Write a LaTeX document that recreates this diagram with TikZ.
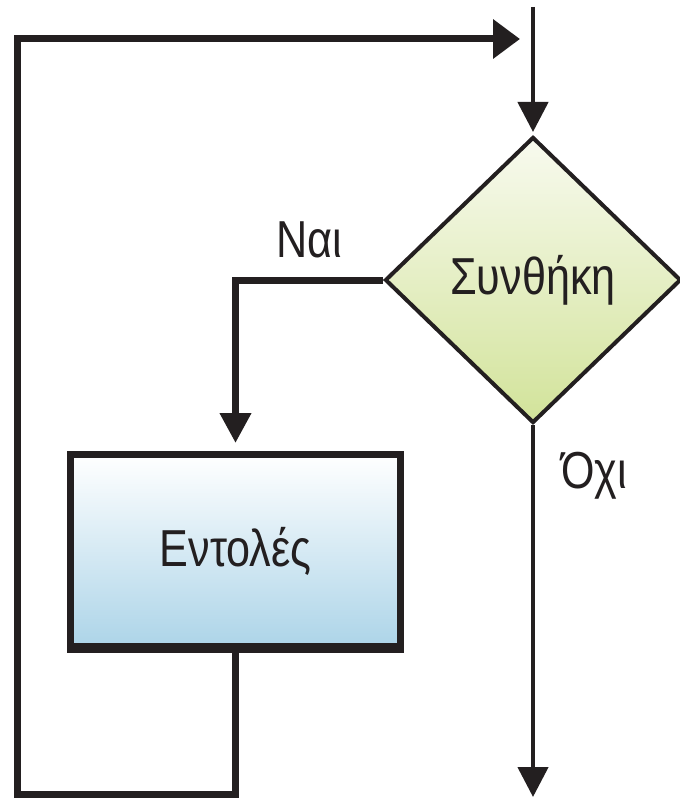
\documentclass[tikz,border=0pt]{standalone}
\usepackage{fontspec}
\setmainfont{Liberation Sans}[FakeStretch=0.83]
\usetikzlibrary{shapes.geometric,arrows.meta}
\definecolor{linecol}{HTML}{231F20}
\definecolor{dtop}{HTML}{F8FAEF}
\definecolor{dbot}{HTML}{D2E39A}
\definecolor{btop}{HTML}{FFFFFF}
\definecolor{bbot}{HTML}{ACD4E8}
\tikzset{
  txt/.style={text=linecol,font=\fontsize{52}{60}\selectfont},
  decision/.style={shape=diamond,draw=linecol,line width=4pt,inner sep=0pt,
    minimum width=296pt,minimum height=286pt,top color=dtop,bottom color=dbot,txt},
  process/.style={shape=rectangle,draw=linecol,line width=7pt,inner sep=0pt,
    minimum width=330pt,minimum height=193.5pt,top color=btop,bottom color=bbot,txt},
  thinflow/.style={draw=linecol,line width=4.5pt,-{Triangle[length=30pt,width=30pt]}},
  loopflow/.style={draw=linecol,line width=7pt,line join=miter},
  lbl/.style={txt,anchor=base,inner sep=0pt}
}
\begin{document}
\begin{tikzpicture}[x=1pt,y=-1pt]
\useasboundingbox (0,0) rectangle (679,799);
\fill[white] (0,0) rectangle (679,799);
\coordinate (top) at (533,7);
\coordinate (end) at (533,797);
\coordinate (lb) at (17.5,794.5);
\coordinate (le) at (520,39);
\node[decision] (cond) at (533,280) {Συνθήκη};
\node[process] (body) at (235.5,551.25) {Εντολές};
\fill[linecol] ([yshift=-1pt]body.south west) rectangle ([yshift=9pt]body.south east);
\node[lbl] (nai) at (309,258) {Ναι};
\node[lbl] (oxi) at (594,488) {Όχι};
\draw[thinflow,shorten >=3pt] (top) -- (cond.north);
\draw[thinflow] (cond.south) -- (end);
\draw[loopflow,-{Triangle[length=30pt,width=30pt]},shorten >=8pt] (cond.west) -| (body.north);
\draw[loopflow,-{Triangle[length=27pt,width=38pt]}] (body.south) |- (lb) |- (le);
\end{tikzpicture}
\end{document}
